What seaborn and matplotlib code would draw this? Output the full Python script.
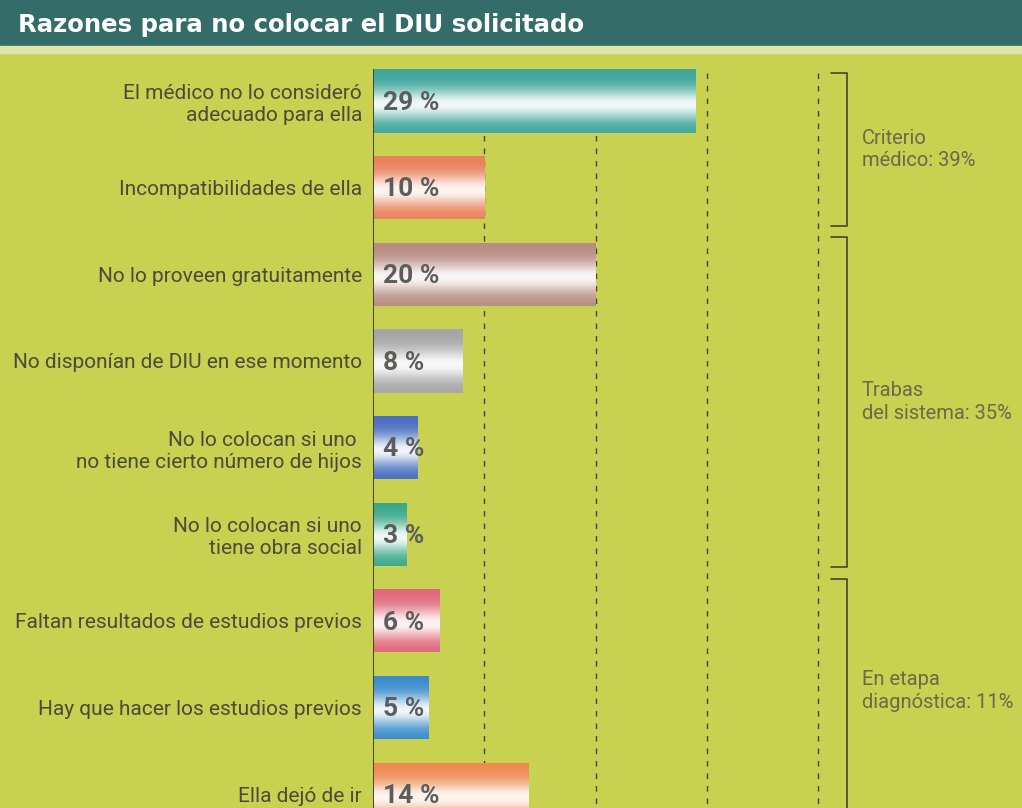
import numpy as np
import pandas as pd
import matplotlib
matplotlib.use('Agg')
import matplotlib.pyplot as plt
import matplotlib.colors as mcolors
from matplotlib.patches import Rectangle
import seaborn as sns


# =============================================================================
# Data
# =============================================================================
reasons = [
    'El médico no lo consideró\nadecuado para ella',
    'Incompatibilidades de ella',
    'No lo proveen gratuitamente',
    'No disponían de DIU en ese momento',
    'No lo colocan si uno \nno tiene cierto número de hijos',
    'No lo colocan si uno\ntiene obra social',
    'Faltan resultados de estudios previos',
    'Hay que hacer los estudios previos',
    'Ella dejó de ir',
]
pct = [29, 10, 20, 8, 4, 3, 6, 5, 14]
bar_colors = ['#3fa59c', '#e8805a', '#b78c82', '#a6a6a6', '#4a6fc0',
              '#3aa88a', '#e0687a', '#3a8bcb', '#ee8a50']

group_labels = ['Criterio\nmédico: 39%', 'Trabas\ndel sistema: 35%',
                'En etapa\ndiagnóstica: 11%']
grid_ticks = [10, 20, 30, 40]

title = 'Razones para no colocar el DIU solicitado'

# =============================================================================
# Style
# =============================================================================
BG     = '#c8d150'
TEAL   = '#336c68'
INK    = '#45452f'
LABEL  = '#4b4b3c'
GROUP  = '#6a6a4c'
VALUE  = '#5c5e5c'

sns.set_style('white')
plt.rcParams['font.family'] = ['Roboto', 'DejaVu Sans']

fig = plt.figure(figsize=(10.22, 8.08), dpi=100, facecolor=BG)

# title band
fig.patches.append(Rectangle((0, 1 - 46 / 808), 1, 46 / 808,
                             transform=fig.transFigure, color=TEAL, zorder=0))
fig.patches.append(Rectangle((0, 1 - 53 / 808), 1, 7 / 808,
                             transform=fig.transFigure, color='#dfe4ad', zorder=0))
fig.text(18 / 1022, 1 - 25 / 808, title, color='white', fontsize=17.6,
         fontweight='bold', family=['DejaVu Sans'], va='center', ha='left')

ax = fig.add_axes([373 / 1022, 0, 1 - 373 / 1022, 1 - 55 / 808])
ax.set_facecolor(BG)

df = pd.DataFrame({'reason': reasons, 'pct': pct})
sns.barplot(data=df, y='reason', x='pct', hue='reason', palette=bar_colors,
            legend=False, orient='h', width=0.73, ax=ax, saturation=1,
            linewidth=0)

# metallic gradient on every bar
t = np.linspace(0, 1, 128)[:, None]
shine = 0.92 * np.exp(-((t - 0.55) / 0.24) ** 2)
for i, (patch, col) in enumerate(zip(ax.patches, bar_colors)):
    rgb = np.array(mcolors.to_rgb(col))
    img = rgb[None, None, :] * (1 - shine[..., None]) + shine[..., None]
    img = np.repeat(img, 2, axis=1)
    x0, y0 = patch.get_xy()
    w, h = patch.get_width(), patch.get_height()
    im = ax.imshow(img, extent=[x0, x0 + w, y0 + h, y0], origin='upper',
                   aspect='auto', zorder=2, interpolation='bilinear')
    im.set_clip_path(patch)
    ax.text(0.9, y0 + h / 2 + 0.02, f'{pct[i]} %', color=VALUE,
            fontsize=19, fontweight='bold', va='center', ha='left', zorder=3)

# reference lines
y_top, y_bot = -0.32, 8.3
ax.vlines(grid_ticks, y_top, y_bot, colors=INK, linewidth=1.0,
          linestyles=(0, (4, 5)), zorder=1)
ax.vlines(0, -0.37, y_bot, colors=INK, linewidth=1.4, zorder=3)

# group brackets
bounds = [(-0.32, 1.44), (1.57, 5.38), (5.52, 8.3)]
for (b0, b1), lab in zip(bounds, group_labels):
    ax.plot([41.1, 42.6, 42.6, 41.1], [b0, b0, b1, b1], color=INK,
            linewidth=1.2, clip_on=False)
    ym = (b0 + min(b1, 8.1)) / 2
    ax.text(43.9, ym, lab, color=GROUP, fontsize=14.5, va='center', ha='left',
            linespacing=1.25)

ax.set_xlim(0, 58.3)
ax.set_ylim(8.16, -0.53)
ax.set_xlabel('')
ax.set_ylabel('')
ax.set_xticks([])
ax.set_yticks(range(len(reasons)))
ax.set_yticklabels(reasons, linespacing=1.2, fontsize=15, color=LABEL)
ax.tick_params(axis='y', length=0, pad=8)
sns.despine(ax=ax, left=True, bottom=True)

fig.savefig('out.png', dpi=100, facecolor=BG)
plt.close(fig)
